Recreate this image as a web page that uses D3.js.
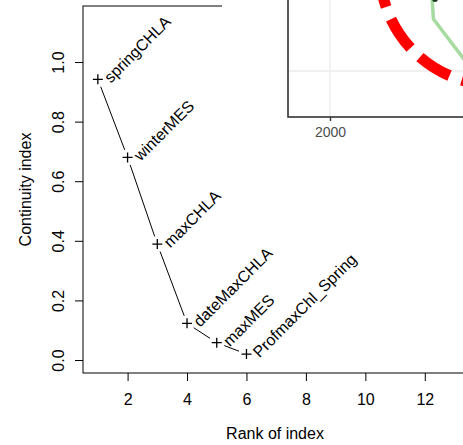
<!DOCTYPE html>
<html>
<head>
<meta charset="utf-8">
<script src="https://cdn.jsdelivr.net/npm/d3@7"></script>
<style>
body { margin: 0; background: #fff; }
svg { display: block; font-family: "Liberation Sans", Arial, sans-serif; }
</style>
</head>
<body>
<svg id="svg1" width="463" height="445"></svg>
<script>
// continuity index by rank, with a piece of an overlapping ggplot inset

var indexNames = ["springCHLA", "winterMES", "maxCHLA", "dateMaxCHLA", "maxMES", "ProfmaxChl_Spring"];
var ranks = [1, 2, 3, 4, 5, 6];
var continuity = [0.942, 0.68, 0.389, 0.123, 0.058, 0.02];

var xTicks = [2, 4, 6, 8, 10, 12];
var yTicks = [0, 0.2, 0.4, 0.6, 0.8, 1.0];

// inset (only its lower left corner is in view)
var insetXTicks = [2000];
var insetYGrid = [0];
var greenYears = [2005.08, 2005.17, 2006.65, 2007.5];
var greenValues = [0.405, 0.26, 0.065, -0.035];
var darkPoint = [2005.25, 0.36];
var circleCentre = [2008.25, 0.505];
var circleRadiusYears = 5.75;

var svg = d3.select("#svg1");

var x = d3.scaleLinear().domain([0.5, 13.42]).range([83, 467]);
var y = d3.scaleLinear().domain([-0.0436, 1.188]).range([373, 6]);

var pts = ranks.map(function (r, i) {
    return { name: indexNames[i], px: x(r), py: y(continuity[i]) };
});

// box
svg.append("rect")
    .attr("x", x.range()[0]).attr("y", y.range()[1])
    .attr("width", x.range()[1] - x.range()[0])
    .attr("height", y.range()[0] - y.range()[1])
    .attr("fill", "none").attr("stroke", "#000").attr("stroke-width", 1);

// x axis
var gx = svg.append("g")
    .attr("transform", "translate(0," + y.range()[0] + ")")
    .call(d3.axisBottom(x).tickValues(xTicks).tickSize(8).tickFormat(d3.format("d")));
gx.select(".domain").remove();
gx.selectAll("line").attr("stroke", "#000");
gx.selectAll("text")
    .attr("y", 32).attr("dy", 0)
    .attr("fill", "#000")
    .style("font-size", "16px");

// y axis
var gy = svg.append("g")
    .attr("transform", "translate(" + x.range()[0] + ",0)")
    .call(d3.axisLeft(y).tickValues(yTicks).tickSize(8).tickFormat(d3.format(".1f")));
gy.select(".domain").remove();
gy.selectAll("line").attr("stroke", "#000");
gy.selectAll("text")
    .attr("x", null).attr("dy", 0)
    .attr("text-anchor", "middle")
    .attr("transform", "translate(-19,0) rotate(-90)")
    .attr("fill", "#000")
    .style("font-size", "16px");

svg.append("text")
    .attr("x", (x.range()[0] + x.range()[1]) / 2)
    .attr("y", 439)
    .attr("text-anchor", "middle")
    .style("font-size", "16px")
    .text("Rank of index");

svg.append("text")
    .attr("transform", "translate(31," + (y.range()[0] + y.range()[1]) / 2 + ") rotate(-90)")
    .attr("text-anchor", "middle")
    .style("font-size", "16px")
    .text("Continuity index");

// type="b" style segments with a gap around each point
var gap = 8;
for (var i = 0; i < pts.length - 1; i++) {
    var a = pts[i], b = pts[i + 1];
    var dx = b.px - a.px, dy = b.py - a.py;
    var len = Math.sqrt(dx * dx + dy * dy);
    if (len <= 2 * gap) continue;
    svg.append("line")
        .attr("x1", a.px + dx / len * gap).attr("y1", a.py + dy / len * gap)
        .attr("x2", b.px - dx / len * gap).attr("y2", b.py - dy / len * gap)
        .attr("stroke", "#000").attr("stroke-width", 1);
}

// + markers
svg.selectAll("path.plus")
    .data(pts)
    .enter().append("path")
    .attr("class", "plus")
    .attr("d", function (d) {
        return "M" + (d.px - 5) + "," + d.py + "h10M" + d.px + "," + (d.py - 5) + "v10";
    })
    .attr("stroke", "#000").attr("stroke-width", 1.3);

svg.selectAll("text.lab")
    .data(pts)
    .enter().append("text")
    .attr("class", "lab")
    .attr("transform", function (d) { return "translate(" + (d.px + 9) + "," + (d.py + 0.5) + ") rotate(-45)"; })
    .attr("dy", "0.35em")
    .style("font-size", "16px")
    .text(function (d) { return d.name; });

// ---- inset ----
var ix = d3.scaleLinear().domain([2000, 2010]).range([330, 530]);
var iy = d3.scaleLinear().domain([0, 1]).range([71, -129]);
var insetXLim = [1997.9, 2015];
var insetYLim = [-0.23, 0.9];

var inset = svg.append("g");

inset.append("rect")
    .attr("x", 222).attr("y", 0).attr("width", 260).attr("height", 145)
    .attr("fill", "#fff");

inset.selectAll("line.vg")
    .data(insetXTicks)
    .enter().append("line")
    .attr("x1", function (d) { return ix(d); }).attr("x2", function (d) { return ix(d); })
    .attr("y1", iy(insetYLim[1])).attr("y2", iy(insetYLim[0]))
    .attr("stroke", "#ebebeb").attr("stroke-width", 1.3);

inset.selectAll("line.hg")
    .data(insetYGrid)
    .enter().append("line")
    .attr("y1", function (d) { return iy(d); }).attr("y2", function (d) { return iy(d); })
    .attr("x1", ix(insetXLim[0])).attr("x2", ix(insetXLim[1]))
    .attr("stroke", "#ebebeb").attr("stroke-width", 1.3);

inset.append("path")
    .datum(greenYears.map(function (yr, i) { return [yr, greenValues[i]]; }))
    .attr("d", d3.line().x(function (d) { return ix(d[0]); }).y(function (d) { return iy(d[1]); }))
    .attr("fill", "none").attr("stroke", "#a6dba0").attr("stroke-width", 3.5)
    .attr("stroke-linejoin", "round");

inset.append("circle")
    .attr("cx", ix(darkPoint[0])).attr("cy", iy(darkPoint[1])).attr("r", 3)
    .attr("fill", "#1b3a1b");

inset.append("circle")
    .attr("cx", ix(circleCentre[0])).attr("cy", iy(circleCentre[1]))
    .attr("r", ix(circleCentre[0] + circleRadiusYears) - ix(circleCentre[0]))
    .attr("fill", "none").attr("stroke", "#ff0000").attr("stroke-width", 11)
    .attr("stroke-dasharray", "35,13").attr("stroke-dashoffset", 12.8);

// panel border
inset.append("rect")
    .attr("x", ix(insetXLim[0])).attr("y", iy(insetYLim[1]))
    .attr("width", ix(insetXLim[1]) - ix(insetXLim[0]))
    .attr("height", iy(insetYLim[0]) - iy(insetYLim[1]))
    .attr("fill", "none").attr("stroke", "#333").attr("stroke-width", 1.6);

var gix = inset.append("g")
    .attr("transform", "translate(0," + iy(insetYLim[0]) + ")")
    .call(d3.axisBottom(ix).tickValues(insetXTicks).tickSize(4).tickFormat(d3.format("d")));
gix.select(".domain").remove();
gix.selectAll("line").attr("stroke", "#333").attr("stroke-width", 1.4);
gix.selectAll("text")
    .attr("y", 20).attr("dy", 0)
    .attr("fill", "#4d4d4d")
    .style("font-size", "14px");
</script>
</body>
</html>
